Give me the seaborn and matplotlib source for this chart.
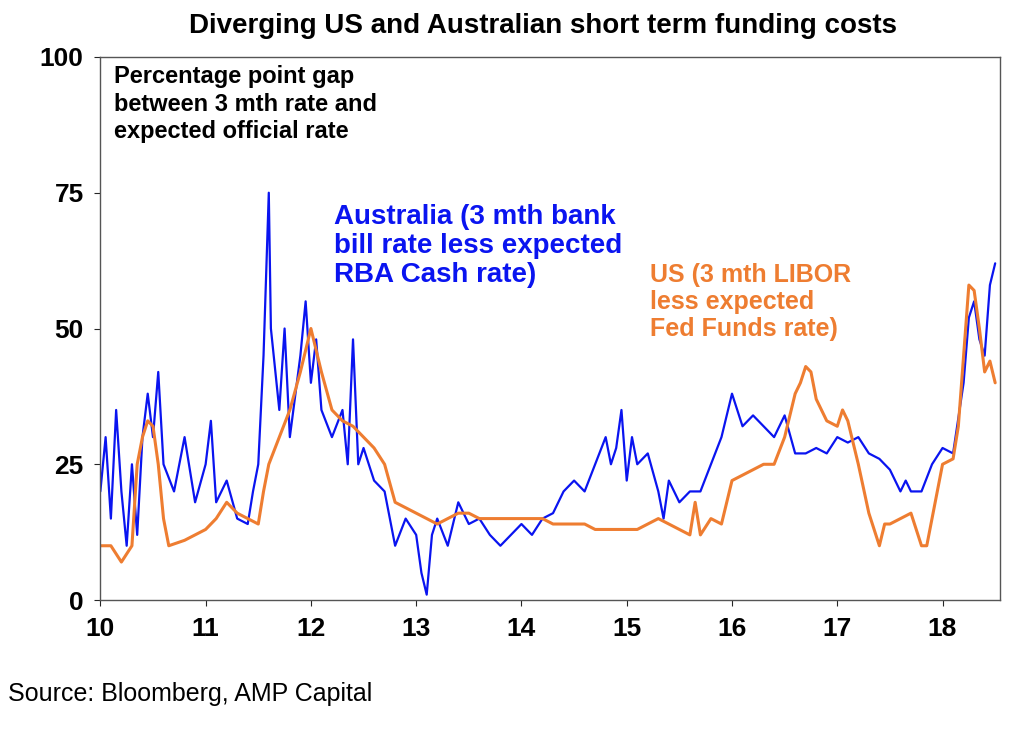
import seaborn as sns
import matplotlib.pyplot as plt

# Australia: 3 mth bank bill less expected RBA cash rate
aus_x = [10.0, 10.05, 10.1, 10.15, 10.2, 10.25, 10.3, 10.35, 10.4, 10.45, 10.5, 10.55, 10.6, 10.7, 10.8, 10.9,
         11.0, 11.05, 11.1, 11.2, 11.3, 11.4, 11.45, 11.5, 11.55, 11.6, 11.62, 11.7, 11.75, 11.8, 11.9, 11.95,
         12.0, 12.05, 12.1, 12.2, 12.3, 12.35, 12.4, 12.45, 12.5, 12.6, 12.7, 12.8, 12.9,
         13.0, 13.05, 13.1, 13.15, 13.2, 13.3, 13.4, 13.5, 13.6, 13.7, 13.8, 13.9,
         14.0, 14.1, 14.2, 14.3, 14.4, 14.5, 14.6, 14.7, 14.8, 14.85, 14.9, 14.95,
         15.0, 15.05, 15.1, 15.2, 15.3, 15.35, 15.4, 15.5, 15.6, 15.7, 15.8, 15.9,
         16.0, 16.1, 16.2, 16.3, 16.4, 16.5, 16.6, 16.7, 16.8, 16.9,
         17.0, 17.1, 17.2, 17.3, 17.4, 17.5, 17.6, 17.65, 17.7, 17.8, 17.9,
         18.0, 18.1, 18.2, 18.25, 18.3, 18.35, 18.4, 18.45, 18.5]
aus_y = [20, 30, 15, 35, 20, 10, 25, 12, 30, 38, 30, 42, 25, 20, 30, 18,
         25, 33, 18, 22, 15, 14, 20, 25, 45, 75, 50, 35, 50, 30, 45, 55,
         40, 48, 35, 30, 35, 25, 48, 25, 28, 22, 20, 10, 15,
         12, 5, 1, 12, 15, 10, 18, 14, 15, 12, 10, 12,
         14, 12, 15, 16, 20, 22, 20, 25, 30, 25, 28, 35,
         22, 30, 25, 27, 20, 15, 22, 18, 20, 20, 25, 30,
         38, 32, 34, 32, 30, 34, 27, 27, 28, 27,
         30, 29, 30, 27, 26, 24, 20, 22, 20, 20, 25,
         28, 27, 40, 52, 55, 48, 45, 58, 62]

# US: 3 mth LIBOR less expected Fed Funds rate
us_x = [10.0, 10.1, 10.2, 10.3, 10.35, 10.4, 10.45, 10.5, 10.55, 10.6, 10.65, 10.8, 10.9,
        11.0, 11.1, 11.2, 11.3, 11.4, 11.5, 11.55, 11.6, 11.7, 11.8, 11.9,
        12.0, 12.1, 12.2, 12.3, 12.4, 12.5, 12.6, 12.7, 12.8, 12.9,
        13.0, 13.1, 13.2, 13.3, 13.4, 13.5, 13.6, 13.7, 13.8, 13.9,
        14.0, 14.1, 14.2, 14.3, 14.4, 14.5, 14.6, 14.7, 14.8, 14.9,
        15.0, 15.1, 15.2, 15.3, 15.4, 15.5, 15.6, 15.65, 15.7, 15.8, 15.9,
        16.0, 16.1, 16.2, 16.3, 16.4, 16.5, 16.6, 16.65, 16.7, 16.75, 16.8, 16.9,
        17.0, 17.05, 17.1, 17.2, 17.3, 17.4, 17.45, 17.5, 17.6, 17.7, 17.8, 17.85, 17.9,
        18.0, 18.1, 18.15, 18.2, 18.25, 18.3, 18.35, 18.4, 18.45, 18.5]
us_y = [10, 10, 7, 10, 25, 30, 33, 32, 25, 15, 10, 11, 12,
        13, 15, 18, 16, 15, 14, 20, 25, 30, 35, 42,
        50, 42, 35, 33, 32, 30, 28, 25, 18, 17,
        16, 15, 14, 15, 16, 16, 15, 15, 15, 15,
        15, 15, 15, 14, 14, 14, 14, 13, 13, 13,
        13, 13, 14, 15, 14, 13, 12, 18, 12, 15, 14,
        22, 23, 24, 25, 25, 30, 38, 40, 43, 42, 37, 33,
        32, 35, 33, 25, 16, 10, 14, 14, 15, 16, 10, 10, 15,
        25, 26, 32, 45, 58, 57, 50, 42, 44, 40]

sns.set_style('white')
plt.rcParams['font.family'] = ['Liberation Sans', 'DejaVu Sans']
plt.rcParams['text.color'] = 'black'

fig = plt.figure(figsize=(10.24, 7.3), dpi=100)
ax = fig.add_axes([0.098, 0.178, 0.879, 0.744])

blue = '#0A14F0'
orange = '#EE7D31'
sns.lineplot(x=aus_x, y=aus_y, color=blue, linewidth=1.6, ax=ax)
sns.lineplot(x=us_x, y=us_y, color=orange, linewidth=2.2, ax=ax)

ax.set_xlim(10, 18.55)
ax.set_ylim(0, 100)
ax.set_xticks(range(10, 19))
ax.set_yticks([0, 25, 50, 75, 100])
ax.tick_params(axis='both', labelsize=19, length=4, direction='out', bottom=True, left=True,
               labelcolor='black', pad=8)
for lbl in ax.get_xticklabels() + ax.get_yticklabels():
    lbl.set_fontweight('bold')
for s in ax.spines.values():
    s.set_color('#555555')
    s.set_linewidth(1)

fig.text(0.53, 0.955, 'Diverging US and Australian short term funding costs',
         ha='center', fontsize=20, fontweight='bold')
ax.text(0.015, 0.985, 'Percentage point gap\nbetween 3 mth rate and\nexpected official rate',
        transform=ax.transAxes, va='top', fontsize=17, fontweight='bold', linespacing=1.25)
ax.text(12.22, 73, 'Australia (3 mth bank\nbill rate less expected\nRBA Cash rate)',
        color=blue, va='top', fontsize=20, fontweight='bold', linespacing=1.15)
ax.text(15.22, 62, 'US (3 mth LIBOR\nless expected\nFed Funds rate)',
        color=orange, va='top', fontsize=18, fontweight='bold', linespacing=1.15)
fig.text(0.008, 0.04, 'Source: Bloomberg, AMP Capital', fontsize=18)

plt.savefig('out.png', dpi=100)
